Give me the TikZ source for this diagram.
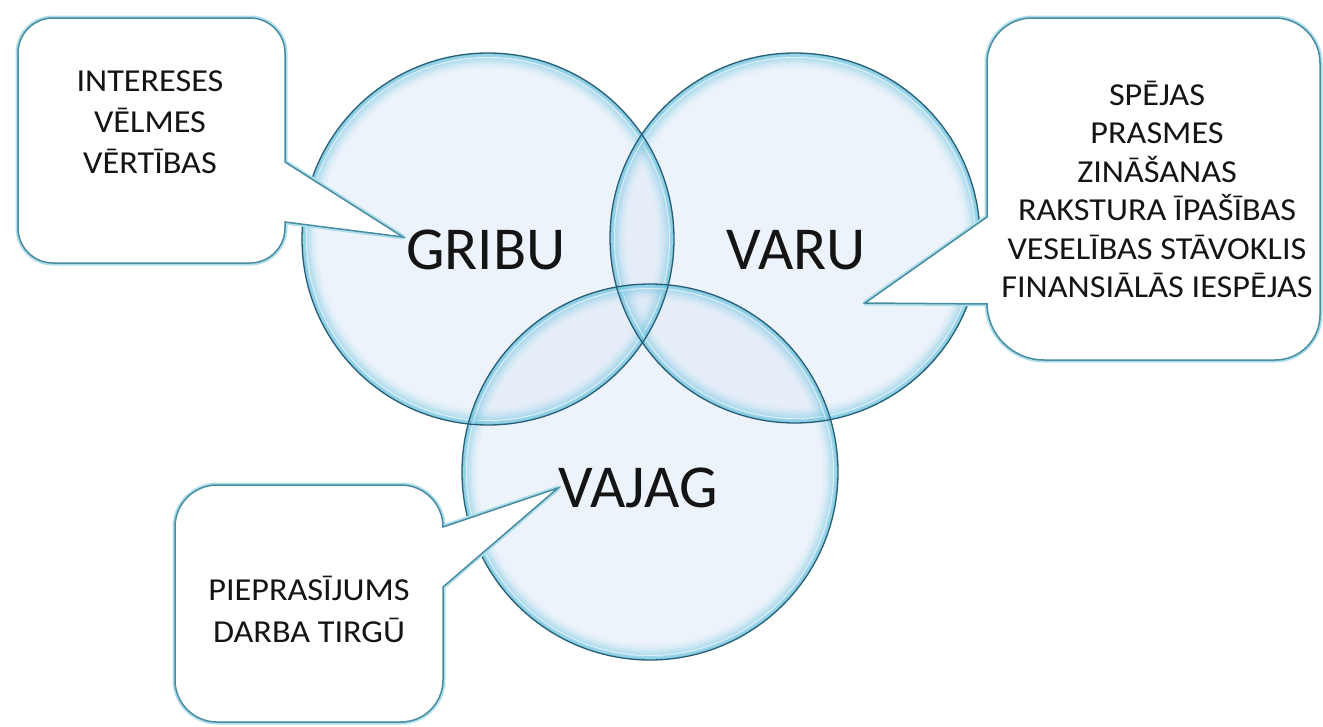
\documentclass[tikz,border=0pt]{standalone}
\usepackage{fontspec}
\setmainfont{Carlito}
\newfontfamily\boxfont[FakeStretch=1.07]{Carlito}
\definecolor{bubblefill}{RGB}{222,233,247}
\definecolor{bubbleglow}{RGB}{100,192,220}
\definecolor{bubbleline}{RGB}{40,95,118}
\definecolor{calloutline}{RGB}{72,140,162}
\definecolor{calloutglow}{RGB}{175,222,234}
\definecolor{txt}{RGB}{20,20,20}
\tikzset{
  bubble/.style={circle, inner sep=0pt, draw=bubbleline, line width=1.3pt},
  bigtext/.style={anchor=base, inner sep=0pt, text=txt, font=\fontsize{61}{72}\selectfont},
  boxtext/.style={anchor=base, inner sep=0pt, text=txt, font=\boxfont\fontsize{32}{38}\selectfont},
  calloutglowline/.style={draw=calloutglow, line width=5pt, line join=round},
  calloutedge/.style={draw=calloutline, line width=1.5pt, fill=white, line join=miter},
}
\newcommand{\bubbleglowrings}[3]{%
  \foreach \k/\o in {1/0.75,2/0.62,3/0.5,4/0.4,5/0.31,6/0.23,7/0.16,8/0.1,9/0.06,10/0.03}{%
    \draw[bubbleglow, line width=1.7pt, opacity=\o] (#1,#2) circle ({#3-\k*1.6+0.8});
  }%
  \draw[white, line width=1pt, opacity=0.6] (#1,#2) circle ({#3-4.5});
}
\begin{document}
\begin{tikzpicture}[x=1pt,y=-1pt]
\useasboundingbox (0,0) rectangle (1323,726);
% fills
\fill[bubblefill, opacity=0.55] (488,239) circle (186);
\fill[bubblefill, opacity=0.55] (795,238) circle (185);
\fill[bubblefill, opacity=0.55] (650,472) circle (188);
% glows
\bubbleglowrings{488}{239}{186}
\bubbleglowrings{795}{238}{185}
\bubbleglowrings{650}{472}{188}
% outlines
\node[bubble, minimum size=372pt] (gribuc) at (488,239) {};
\node[bubble, minimum size=370pt] (varuc) at (795,238) {};
\node[bubble, minimum size=376pt] (vajagc) at (650,472) {};
% callout tips
\coordinate (tipA) at (403,237);
\coordinate (tipB) at (865,303);
\coordinate (tipC) at (558,488);
% callout A
\path[calloutglowline] (150,18) [rounded corners=35] -- (285,18) [sharp corners] -- (285,162) -- (tipA) -- (285,222) [rounded corners=35] -- (285,263) -- (18,263) -- (18,18) -- cycle;
\path[calloutedge] (150,18) [rounded corners=35] -- (285,18) [sharp corners] -- (285,162) -- (tipA) -- (285,222) [rounded corners=35] -- (285,263) -- (18,263) -- (18,18) -- cycle;
% callout B
\path[calloutglowline] (1150,18) [rounded corners=45] -- (1320,18) -- (1320,360) [rounded corners=57] -- (987,360) [sharp corners] -- (987,304) -- (tipB) -- (987,217) [rounded corners=45] -- (987,18) -- cycle;
\path[calloutedge] (1150,18) [rounded corners=45] -- (1320,18) -- (1320,360) [rounded corners=57] -- (987,360) [sharp corners] -- (987,304) -- (tipB) -- (987,217) [rounded corners=45] -- (987,18) -- cycle;
% callout C
\path[calloutglowline] (300,485) [rounded corners=42] -- (443,485) [sharp corners] -- (443,527) -- (tipC) -- (443,587) [rounded corners=42] -- (443,722) -- (175,722) -- (175,485) -- cycle;
\path[calloutedge] (300,485) [rounded corners=42] -- (443,485) [sharp corners] -- (443,527) -- (tipC) -- (443,587) [rounded corners=42] -- (443,722) -- (175,722) -- (175,485) -- cycle;
% big labels
\node[bigtext] (gribu) at (486,269) {GRIBU};
\node[bigtext] (varu) at (796,269) {VARU};
\node[bigtext] (vajag) at (638,507) {VAJAG};
% box A text
\node[boxtext] (a1) at (150,91) {INTERESES};
\node[boxtext] (a2) at (150,132) {VĒLMES};
\node[boxtext] (a3) at (150,173) {VĒRTĪBAS};
% box B text
\node[boxtext] (b1) at (1157,105) {SPĒJAS};
\node[boxtext] (b2) at (1157,143) {PRASMES};
\node[boxtext] (b3) at (1157,182) {ZINĀŠANAS};
\node[boxtext] (b4) at (1157,220) {RAKSTURA ĪPAŠĪBAS};
\node[boxtext] (b5) at (1157,259) {VESELĪBAS STĀVOKLIS};
\node[boxtext] (b6) at (1157,297) {FINANSIĀLĀS IESPĒJAS};
% box C text
\node[boxtext] (c1) at (309,600) {PIEPRASĪJUMS};
\node[boxtext] (c2) at (309,642) {DARBA TIRGŪ};
\end{tikzpicture}
\end{document}
